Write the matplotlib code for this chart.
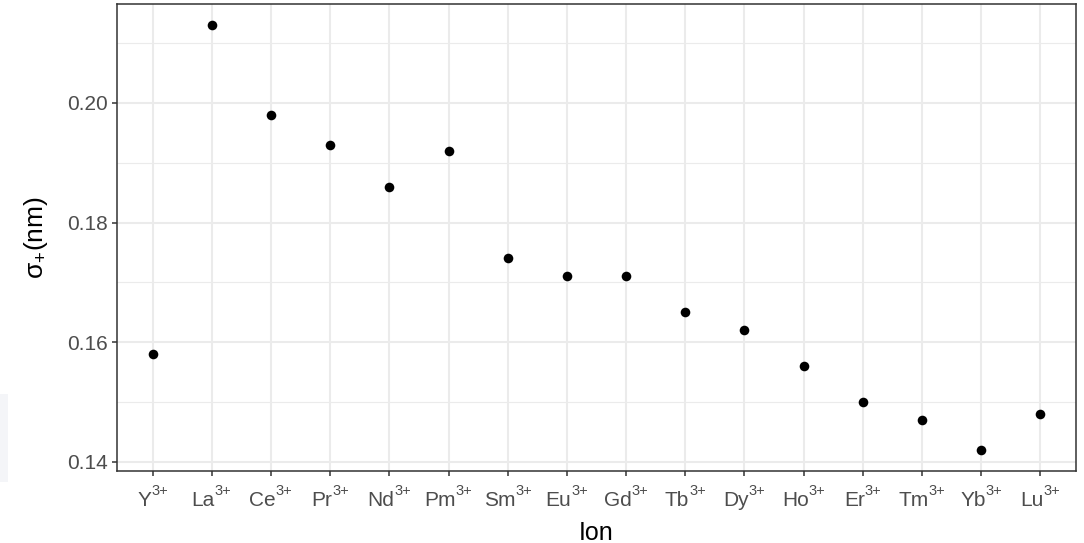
import matplotlib
matplotlib.use("Agg")
import matplotlib.pyplot as plt
import matplotlib.transforms as mtrans
from matplotlib.ticker import MultipleLocator
import numpy as np

ions = ["Y", "La", "Ce", "Pr", "Nd", "Pm", "Sm", "Eu", "Gd", "Tb", "Dy", "Ho", "Er", "Tm", "Yb", "Lu"]
charge = "3+"
sigma = [0.158, 0.213, 0.198, 0.193, 0.186, 0.192, 0.174, 0.171, 0.171, 0.165, 0.162, 0.156, 0.150, 0.147, 0.142, 0.148]
yticks = [0.14, 0.16, 0.18, 0.20]

plt.rcParams['font.family'] = ['Liberation Sans', 'DejaVu Sans']
plt.rcParams['mathtext.fontset'] = 'custom'
plt.rcParams['mathtext.rm'] = 'Liberation Sans'
plt.rcParams['mathtext.it'] = 'Liberation Sans:italic'
plt.rcParams['mathtext.bf'] = 'Liberation Sans:bold'

fig = plt.figure(figsize=(10.84, 5.43), dpi=100)
ax = fig.add_axes([117/1084, 72/543, (1076-117)/1084, (471-4)/543])

# faint artifact box at left edge
fig.patches.append(plt.Rectangle((0, (543-482)/543), 8/1084, 88/543,
                                 transform=fig.transFigure, facecolor='#f4f5f8',
                                 edgecolor='none', zorder=0))

x = np.arange(len(ions))
ax.scatter(x, sigma, s=48, color='black', zorder=3, linewidths=0)

ax.set_xlim(-0.6, len(ions) - 1 + 0.6)
lo, hi = min(sigma), max(sigma)
pad = (hi - lo) * 0.05
ax.set_ylim(lo - pad, hi + pad)

ax.set_xticks(x)
ax.set_xticklabels([''] * len(ions))
ax.set_yticks(yticks)
ax.set_yticklabels(['%.2f' % v for v in yticks])
ax.yaxis.set_minor_locator(MultipleLocator(0.01))

ax.grid(True, which='major', color='#EBEBEB', linewidth=1.5, zorder=0)
ax.grid(True, which='minor', axis='y', color='#EBEBEB', linewidth=0.8, zorder=0)
ax.set_axisbelow(True)
ax.tick_params(which='minor', length=0)
ax.tick_params(which='major', length=3.5, width=1.1, color='#333333',
               labelcolor='#4D4D4D', labelsize=15)
ax.tick_params(axis='y', pad=3)

for s in ax.spines.values():
    s.set_color('#333333')
    s.set_linewidth(1.1)

# manual x tick labels with superscripts
fig.canvas.draw()
renderer = fig.canvas.get_renderer()
base_trans = mtrans.blended_transform_factory(ax.transData, ax.transAxes)
base_y = -35   # px below axes bottom (baseline)
sup_raise = 11  # px
for i, ion in enumerate(ions):
    t1 = ax.text(i, 0, ion, fontsize=15, color='#4D4D4D', ha='left', va='baseline',
                 transform=base_trans, clip_on=False)
    t2 = ax.text(i, 0, charge, fontsize=10.5, color='#4D4D4D', ha='left', va='baseline',
                 transform=base_trans, clip_on=False)
    w1 = t1.get_window_extent(renderer).width
    w2 = t2.get_window_extent(renderer).width
    tot = w1 + w2
    t1.set_transform(mtrans.offset_copy(base_trans, fig=fig, x=-tot / 2, y=base_y, units='dots'))
    t2.set_transform(mtrans.offset_copy(base_trans, fig=fig, x=-tot / 2 + w1, y=base_y + sup_raise, units='dots'))

ax.set_xlabel('Ion', fontsize=18, color='black', va='baseline')
ax.xaxis.set_label_coords(0.5, (3 - 72) / 467)
ax.set_ylabel(r'σ$_{\mathrm{+}}$(nm)', fontsize=19, color='black', va='center')
ax.yaxis.set_label_coords((36 - 117) / 959, 0.5)

fig.savefig('out.png', dpi=100)
